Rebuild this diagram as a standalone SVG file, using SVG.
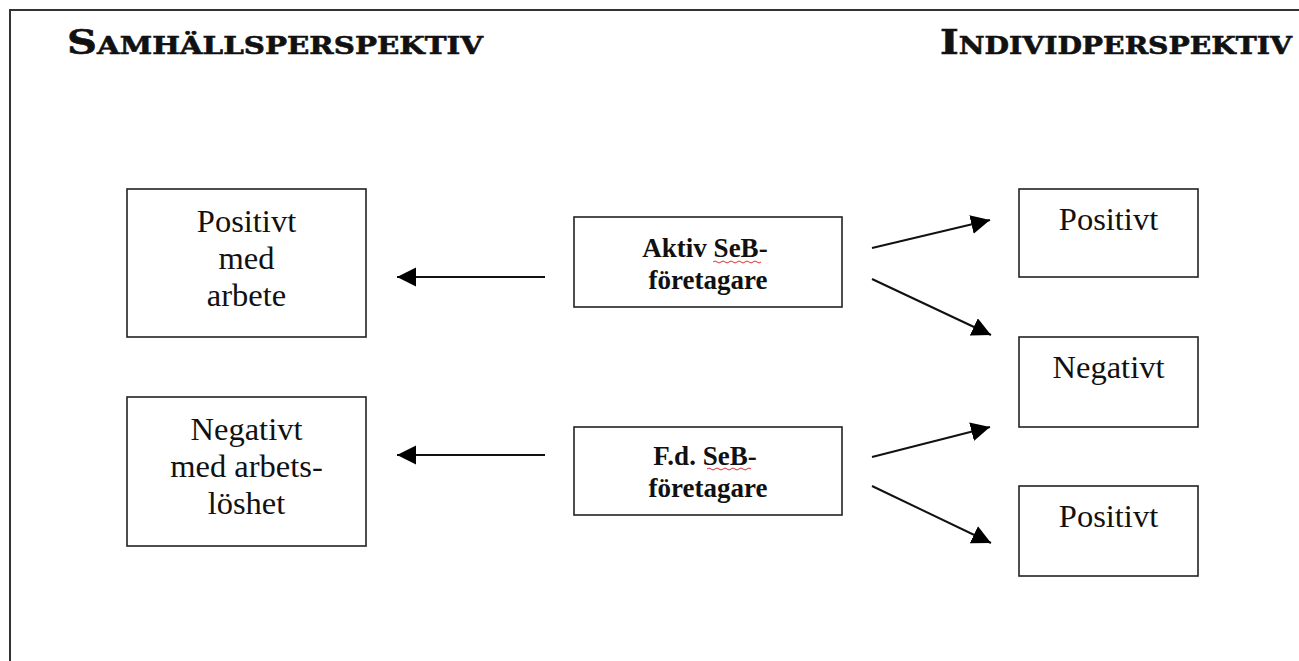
<svg xmlns="http://www.w3.org/2000/svg" width="1299" height="661" viewBox="0 0 1299 661">
<defs>
<style>
.box{fill:#fff;stroke:#222;stroke-width:1.6}
.t{font-family:"Liberation Serif","Times New Roman",serif;font-size:32.5px;fill:#111;text-anchor:middle}
.b{font-family:"Liberation Serif","Times New Roman",serif;font-size:27px;font-weight:bold;fill:#111;text-anchor:middle}
.h{font-family:"DejaVu Serif",serif;font-weight:bold;font-size:34px;font-variant:small-caps;fill:#111;stroke:#111;stroke-width:0.6}
.c{stroke:#111;stroke-width:2;fill:none}
.sp{stroke:#e03030;stroke-width:1;fill:none}
</style>
<marker id="ah" markerUnits="userSpaceOnUse" markerWidth="20" markerHeight="20" refX="19" refY="9.5" orient="auto">
<path d="M0,0 L19,9.5 L0,19 z" fill="#000"/>
</marker>
</defs>
<rect width="1299" height="661" fill="#fff"/>
<path d="M10,661 V10 H1299" fill="none" stroke="#333" stroke-width="2"/>
<text class="h" x="67" y="54" textLength="416" lengthAdjust="spacingAndGlyphs">Samhällsperspektiv</text>
<text class="h" x="940" y="54" textLength="352" lengthAdjust="spacingAndGlyphs">Individperspektiv</text>
<g id="samhalle-positivt">
<rect class="box" x="127" y="189" width="239" height="148"/>
<text class="t" x="246.5" y="232">Positivt</text>
<text class="t" x="246.5" y="269">med</text>
<text class="t" x="246.5" y="306">arbete</text>
</g>
<g id="samhalle-negativt">
<rect class="box" x="127" y="397" width="239" height="149"/>
<text class="t" x="246.5" y="440">Negativt</text>
<text class="t" x="246.5" y="477">med arbets-</text>
<text class="t" x="246.5" y="514">löshet</text>
</g>
<g id="aktiv">
<rect class="box" x="574" y="217" width="268" height="90"/>
<text class="b" x="705" y="257">Aktiv SeB-</text>
<text class="b" x="708" y="289">företagare</text>
<path class="sp" d="M713,262 q2,-2 4,0 t4,0 t4,0 t4,0 t4,0 t4,0 t4,0 t4,0 t4,0 t4,0 t4,0 t4,0"/>
</g>
<g id="fd">
<rect class="box" x="574" y="427" width="268" height="88"/>
<text class="b" x="705" y="465">F.d. SeB-</text>
<text class="b" x="708" y="497">företagare</text>
<path class="sp" d="M707,469 q2,-2 4,0 t4,0 t4,0 t4,0 t4,0 t4,0 t4,0 t4,0 t4,0 t4,0 t4,0"/>
</g>
<g id="individ-positivt-1">
<rect class="box" x="1019" y="189" width="179" height="88"/>
<text class="t" x="1108.5" y="230">Positivt</text>
</g>
<g id="individ-negativt">
<rect class="box" x="1019" y="337" width="179" height="90"/>
<text class="t" x="1108.5" y="378">Negativt</text>
</g>
<g id="individ-positivt-2">
<rect class="box" x="1019" y="486" width="179" height="90"/>
<text class="t" x="1108.5" y="527">Positivt</text>
</g>
<g id="connectors">
<line class="c" x1="545" y1="277" x2="397" y2="277" marker-end="url(#ah)"/>
<line class="c" x1="545" y1="455" x2="397" y2="455" marker-end="url(#ah)"/>
<line class="c" x1="872" y1="248" x2="990" y2="220" marker-end="url(#ah)"/>
<line class="c" x1="872" y1="279" x2="991" y2="335" marker-end="url(#ah)"/>
<line class="c" x1="872" y1="457" x2="990" y2="427" marker-end="url(#ah)"/>
<line class="c" x1="872" y1="486" x2="991" y2="543" marker-end="url(#ah)"/>
</g>
</svg>
